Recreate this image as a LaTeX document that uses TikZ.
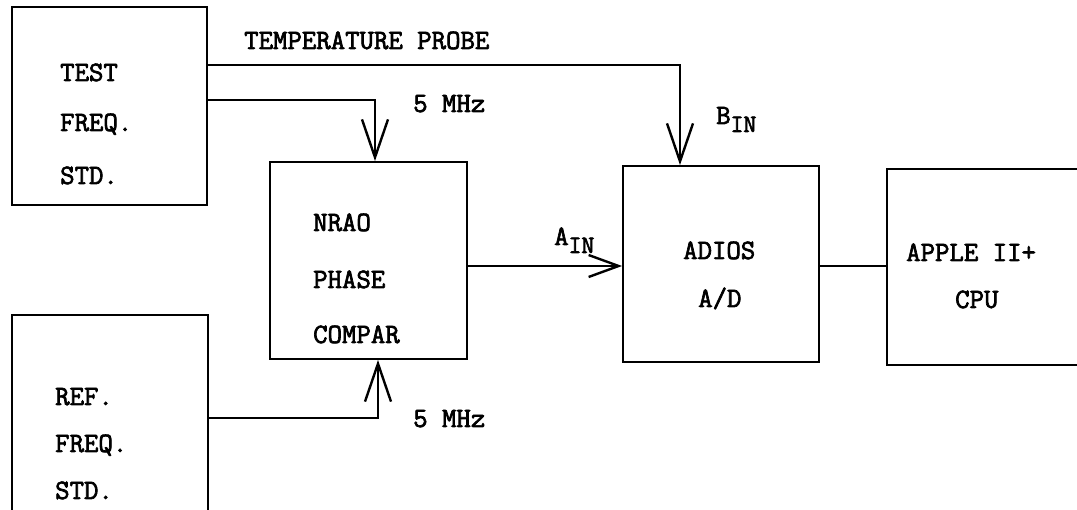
\documentclass[tikz,border=0pt]{standalone}
\usepackage{fontspec}
\setmonofont[FakeBold=2.5]{Latin Modern Mono}
\usetikzlibrary{arrows.meta}
\tikzset{
  blk/.style={draw, line width=1.8pt, inner sep=0pt, minimum width=#1},
  lab/.style={anchor=base west, inner sep=0pt, font=\ttfamily\fontsize{28}{30}\selectfont},
  wire/.style={line width=2.4pt},
  arr/.style={wire, -{Straight Barb[length=38pt,width=26pt,line width=2.4pt]}},
  arrs/.style={wire, -{Straight Barb[length=30pt,width=22pt,line width=2.4pt]}},
}
\newcommand{\sub}[1]{\raisebox{-8pt}{\fontsize{25}{27}\selectfont #1}}
\begin{document}
\begin{tikzpicture}[x=1pt,y=-1pt]
\useasboundingbox (0,0) rectangle (1077,510);
\clip (0,0) rectangle (1077,510);
% boxes
\node[blk=195pt, minimum height=198pt] (test) at (109.5,106) {};
\node[blk=196pt, minimum height=230pt] (ref) at (110,430) {};
\node[blk=197pt, minimum height=197pt] (nrao) at (368.5,260.5) {};
\node[blk=196pt, minimum height=196pt] (adios) at (721,264) {};
\node[blk=230pt, minimum height=196pt] (apple) at (1002,267) {};
% box texts
\node[lab] (t1) at (60,81) {TEST};
\node[lab] (t2) at (60,131) {FREQ.};
\node[lab] (t3) at (60,184) {STD.};
\node[lab] (r1) at (55,405) {REF.};
\node[lab] (r2) at (55,452) {FREQ.};
\node[lab] (r3) at (55,499) {STD.};
\node[lab] (n1) at (313,231) {NRAO};
\node[lab] (n2) at (313,288) {PHASE};
\node[lab] (n3) at (313,343) {COMPAR};
\node[lab] (a1) at (683,259) {ADIOS};
\node[lab] (a2) at (698,307) {A/D};
\node[lab] (p1) at (906,261) {APPLE II+};
\node[lab] (p2) at (955,308) {CPU};
% connector labels
\node[lab] (tpl) at (244,49) {TEMPERATURE PROBE};
\node[lab] (mhz1) at (413,112) {5 MHz};
\node[lab] (mhz2) at (413,427) {5 MHz};
\node[lab] (bin) at (716,124) {B\sub{IN}};
\node[lab] (ain) at (554,245) {A\sub{IN}};
% connectors
\coordinate (tp) at (680,65);
\coordinate (f1) at (375,100);
\coordinate (f2) at (378,418);
\coordinate (sig) at (0,266);
\draw[arr] (test.east |- tp) -| (tp |- adios.north);
\draw[arr] (test.east |- f1) -| (f1 |- nrao.north);
\draw[arr] (ref.east |- f2) -| (f2 |- nrao.south);
\draw[arrs] (nrao.east |- sig) -- (adios.west |- sig);
\draw[wire] (adios.east |- sig) -- (apple.west |- sig);
\end{tikzpicture}
\end{document}
